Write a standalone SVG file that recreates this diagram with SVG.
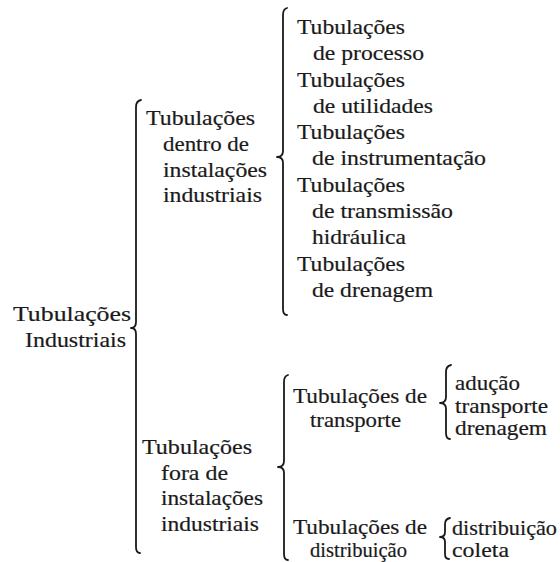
<svg xmlns="http://www.w3.org/2000/svg" width="560" height="562" viewBox="0 0 560 562">
<style>
.t{font-size:21px;fill:#1a1a1a;stroke:#1a1a1a;stroke-width:0.2}
.br{fill:none;stroke:#1a1a1a;stroke-width:1.8;stroke-linecap:round;stroke-linejoin:round}
</style>
<rect width="560" height="562" fill="#fff"/>
<g id="connectors">
<path class="br" d="M141,100 Q136,101 136,107 L136,322 Q136,328 131,328 Q136,328 136,334 L136,547 Q136,553 140,553"/>
<path class="br" d="M287,8 Q283,9 283,15 L283,151 Q283,157 277,157 Q283,157 283,163 L283,309 Q283,315 287,315"/>
<path class="br" d="M288,375 Q284,376 284,382 L284,461 Q284,467 278,467 Q284,467 284,473 L284,554 Q284,560 288,560"/>
<path class="br" d="M451,365 Q446,366 446,372 L446,397 Q446,403 440,403 Q446,403 446,409 L446,433 Q446,439 450,439"/>
<path class="br" d="M450,518 Q445,519 445,524 L445,532 Q445,537 440,537 Q445,537 445,542 L445,554 Q445,559 449,559"/>
</g>
<g class="t" font-family="Liberation Serif" font-size="21">
<g id="root">
<text x="13" y="321" textLength="118" lengthAdjust="spacingAndGlyphs">Tubulações</text>
<text x="25" y="347" textLength="101" lengthAdjust="spacingAndGlyphs">Industriais</text>
</g>
<g id="dentro">
<text x="146" y="125" textLength="109" lengthAdjust="spacingAndGlyphs">Tubulações</text>
<text x="163" y="151" textLength="86" lengthAdjust="spacingAndGlyphs">dentro de</text>
<text x="163" y="177" textLength="104" lengthAdjust="spacingAndGlyphs">instalações</text>
<text x="163" y="202" textLength="99" lengthAdjust="spacingAndGlyphs">industriais</text>
</g>
<g id="processo">
<text x="297" y="34" textLength="108" lengthAdjust="spacingAndGlyphs">Tubulações</text>
<text x="313" y="60" textLength="111" lengthAdjust="spacingAndGlyphs">de processo</text>
</g>
<g id="utilidades">
<text x="297" y="87" textLength="108" lengthAdjust="spacingAndGlyphs">Tubulações</text>
<text x="313" y="113" textLength="120" lengthAdjust="spacingAndGlyphs">de utilidades</text>
</g>
<g id="instrumentacao">
<text x="297" y="139" textLength="108" lengthAdjust="spacingAndGlyphs">Tubulações</text>
<text x="312" y="165" textLength="174" lengthAdjust="spacingAndGlyphs">de instrumentação</text>
</g>
<g id="transmissao">
<text x="297" y="192" textLength="108" lengthAdjust="spacingAndGlyphs">Tubulações</text>
<text x="312" y="218" textLength="141" lengthAdjust="spacingAndGlyphs">de transmissão</text>
<text x="312" y="244" textLength="94" lengthAdjust="spacingAndGlyphs">hidráulica</text>
</g>
<g id="drenagem">
<text x="297" y="271" textLength="108" lengthAdjust="spacingAndGlyphs">Tubulações</text>
<text x="312" y="297" textLength="121" lengthAdjust="spacingAndGlyphs">de drenagem</text>
</g>
<g id="fora">
<text x="142" y="454" textLength="110" lengthAdjust="spacingAndGlyphs">Tubulações</text>
<text x="161" y="480" textLength="67" lengthAdjust="spacingAndGlyphs">fora de</text>
<text x="161" y="505" textLength="102" lengthAdjust="spacingAndGlyphs">instalações</text>
<text x="161" y="531" textLength="98" lengthAdjust="spacingAndGlyphs">industriais</text>
</g>
<g id="transporte">
<text x="293" y="403" textLength="134" lengthAdjust="spacingAndGlyphs">Tubulações de</text>
<text x="310" y="427" textLength="91" lengthAdjust="spacingAndGlyphs">transporte</text>
</g>
<g id="transporte-tipos">
<text x="455" y="390" textLength="65" lengthAdjust="spacingAndGlyphs">adução</text>
<text x="455" y="413" textLength="93" lengthAdjust="spacingAndGlyphs">transporte</text>
<text x="455" y="435" textLength="92" lengthAdjust="spacingAndGlyphs">drenagem</text>
</g>
<g id="distribuicao">
<text x="293" y="534" textLength="134" lengthAdjust="spacingAndGlyphs">Tubulações de</text>
<text x="310" y="557" textLength="97" lengthAdjust="spacingAndGlyphs">distribuição</text>
</g>
<g id="distribuicao-tipos">
<text x="452" y="535" textLength="105" lengthAdjust="spacingAndGlyphs">distribuição</text>
<text x="452" y="557" textLength="57" lengthAdjust="spacingAndGlyphs">coleta</text>
</g>
</g>
</svg>
